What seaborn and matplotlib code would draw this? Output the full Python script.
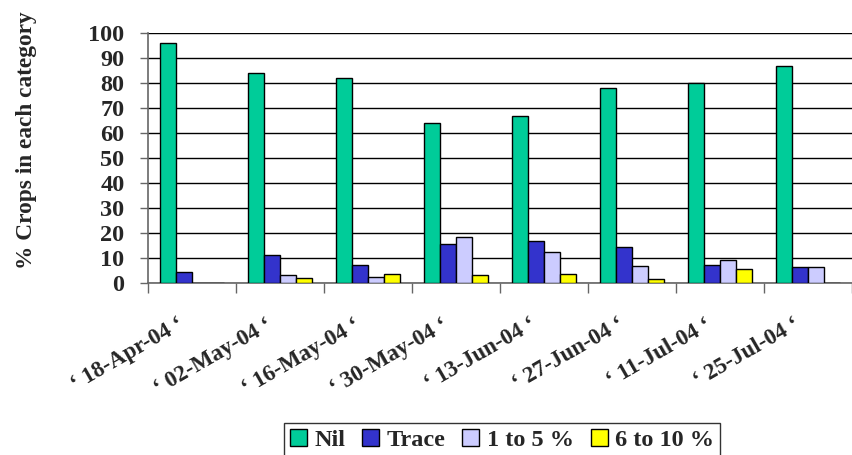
import pandas as pd
import matplotlib
matplotlib.use("Agg")
import matplotlib.pyplot as plt
import matplotlib.transforms as mtransforms
import seaborn as sns

dates = ["18-Apr-04", "02-May-04", "16-May-04", "30-May-04",
         "13-Jun-04", "27-Jun-04", "11-Jul-04", "25-Jul-04"]
categories = ["Nil", "Trace", "1 to 5 %", "6 to 10 %"]
nil = [96, 84, 82, 64, 67, 78, 80, 87]
trace = [4.5, 11.3, 7.1, 15.5, 16.8, 14.5, 7.1, 6.5]
one_to_five = [0, 3.1, 2.4, 18.5, 12.4, 6.7, 9.1, 6.5]
six_to_ten = [0, 1.9, 3.6, 3.1, 3.7, 1.5, 5.5, 0]
colors = ["#00CC99", "#3333CC", "#CCCCFF", "#FFFF00"]

labels = [f"\u2018 {d} \u2018" for d in dates]
rows = []
for cat, vals in zip(categories, [nil, trace, one_to_five, six_to_ten]):
    for lab, v in zip(labels, vals):
        rows.append({"date": lab, "category": cat, "value": v})
df = pd.DataFrame(rows)

sns.set_style("white")
plt.rcParams["font.family"] = ["Liberation Serif", "DejaVu Serif"]
plt.rcParams["font.weight"] = "bold"

fig = plt.figure(figsize=(8.52, 4.55), dpi=100)
ax = fig.add_axes([148 / 852, 1 - 283 / 455, 704 / 852, 250 / 455])

sns.barplot(data=df, x="date", y="value", hue="category", order=labels,
            hue_order=categories, palette=colors, saturation=1, width=0.72,
            edgecolor="black", linewidth=1, ax=ax, zorder=3)

ax.set_ylim(0, 100)
ax.set_xlim(-0.5, 7.5)
ax.set_yticks(range(0, 101, 10))
ax.tick_params(axis="y", labelsize=17.5, length=6, width=1, color="#666666",
               left=True, pad=11)
ax.yaxis.grid(True, color="black", linewidth=1)
ax.set_axisbelow(True)

# group boundary ticks
ax.set_xticks([i - 0.5 for i in range(9)], minor=True)
ax.tick_params(axis="x", which="minor", length=7, width=1, color="#666666",
               bottom=True)
ax.tick_params(axis="x", which="major", length=0, labelsize=16.5, pad=29)
shift = mtransforms.ScaledTranslation(-10 / 100, 0, fig.dpi_scale_trans)
for t in ax.get_xticklabels():
    t.set_rotation(30)
    t.set_ha("right")
    t.set_va("center")
    t.set_rotation_mode("anchor")
    t.set_fontweight("bold")
    t.set_transform(t.get_transform() + shift)

for side in ["top", "right"]:
    ax.spines[side].set_visible(False)
for side in ["left", "bottom"]:
    ax.spines[side].set_color("#666666")
    ax.spines[side].set_linewidth(1.2)

ax.set_xlabel("")
ax.set_ylabel("% Crops in each category", fontsize=16.8, fontweight="bold")
ax.yaxis.set_label_coords(-0.158, 0.572)

leg = ax.legend(ncol=4, frameon=True, fancybox=False, edgecolor="black",
                fontsize=17.5, handlelength=0.7, handleheight=0.7,
                handletextpad=0.3, columnspacing=0.7, borderpad=0.25,
                borderaxespad=0, loc="lower center",
                bbox_to_anchor=(502 / 852, -2 / 455),
                bbox_transform=fig.transFigure)
leg.get_frame().set_linewidth(1)
for t in leg.get_texts():
    t.set_fontweight("bold")

fig.savefig("out.png", dpi=100)
